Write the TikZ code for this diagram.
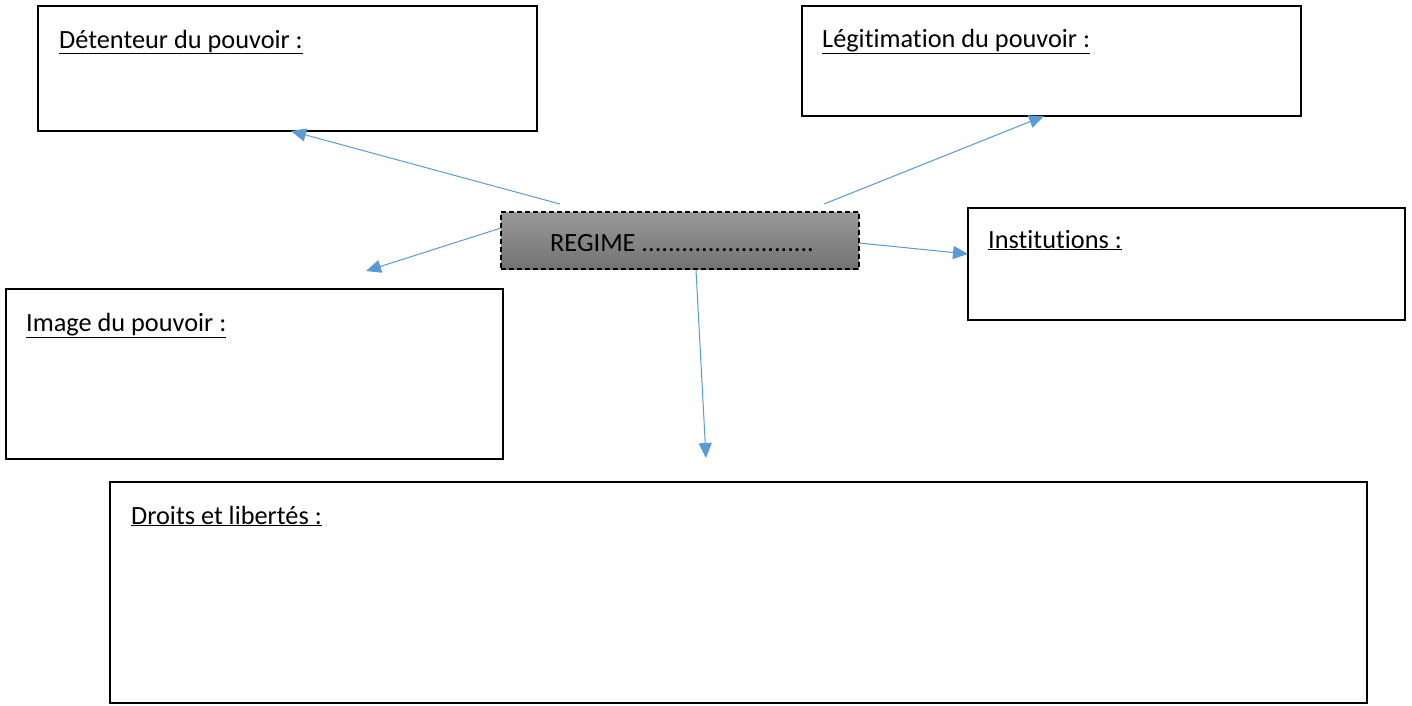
\documentclass[tikz,border=0pt]{standalone}
\usepackage{fontspec}
\setmainfont{Carlito}[RawFeature=-liga]
\usetikzlibrary{arrows.meta}
\definecolor{arrowblue}{HTML}{5B9BD5}
\begin{document}
\begin{tikzpicture}[x=1pt,y=-1pt,
  box/.style={draw=black,line width=1.6pt,fill=white},
  lbl/.style={anchor=base west,inner sep=0pt,font=\fontsize{26.3}{30}\selectfont},
  conn/.style={draw=arrowblue,line width=1pt,-{Triangle[length=15pt,width=13pt]}}]
\useasboundingbox (0,0) rectangle (1412,705);
\fill[white] (0,0) rectangle (1412,705);
% boxes
\draw[box] (38,6) rectangle (537,131);
\coordinate (detB) at (291,131);
\node[lbl] (detT) at (59,48) {\underline{Détenteur du pouvoir :}};
\draw[box] (802,6) rectangle (1301,116);
\coordinate (legB) at (1044,116);
\node[lbl] (legT) at (822,47) {\underline{Légitimation du pouvoir :}};
\draw[box] (968,208) rectangle (1405,320);
\coordinate (instL) at (968,254);
\node[lbl] (instT) at (988,248) {\underline{Institutions :}};
\draw[box] (6,289) rectangle (503,459);
\coordinate (imgT) at (366,271);
\node[lbl] (imgL) at (26,331) {\underline{Image du pouvoir :}};
\draw[box] (110,482) rectangle (1367,703);
\coordinate (droT) at (706,458);
\node[lbl] (droL) at (131,524) {\underline{Droits et libertés :}};
% regime
\node[draw=black,dash pattern=on 5pt off 3pt,line width=1.2pt,top color=black!40,bottom color=black!55,
  minimum width=358pt,minimum height=57pt,inner sep=0pt] (reg) at (680,240.5) {};
\node[lbl] (regT) at (550,251) {REGIME ..........................};
\coordinate (s1) at (560,204);
\coordinate (s2) at (824,204);
\coordinate (s3) at (501,228);
\coordinate (s4) at (859,243);
\coordinate (s5) at (696,270);
\draw[conn] (s1) -- (detB);
\draw[conn] (s2) -- (legB);
\draw[conn] (s3) -- (imgT);
\draw[conn] (s4) -- (instL);
\draw[conn] (s5) -- (droT);
\end{tikzpicture}
\end{document}
